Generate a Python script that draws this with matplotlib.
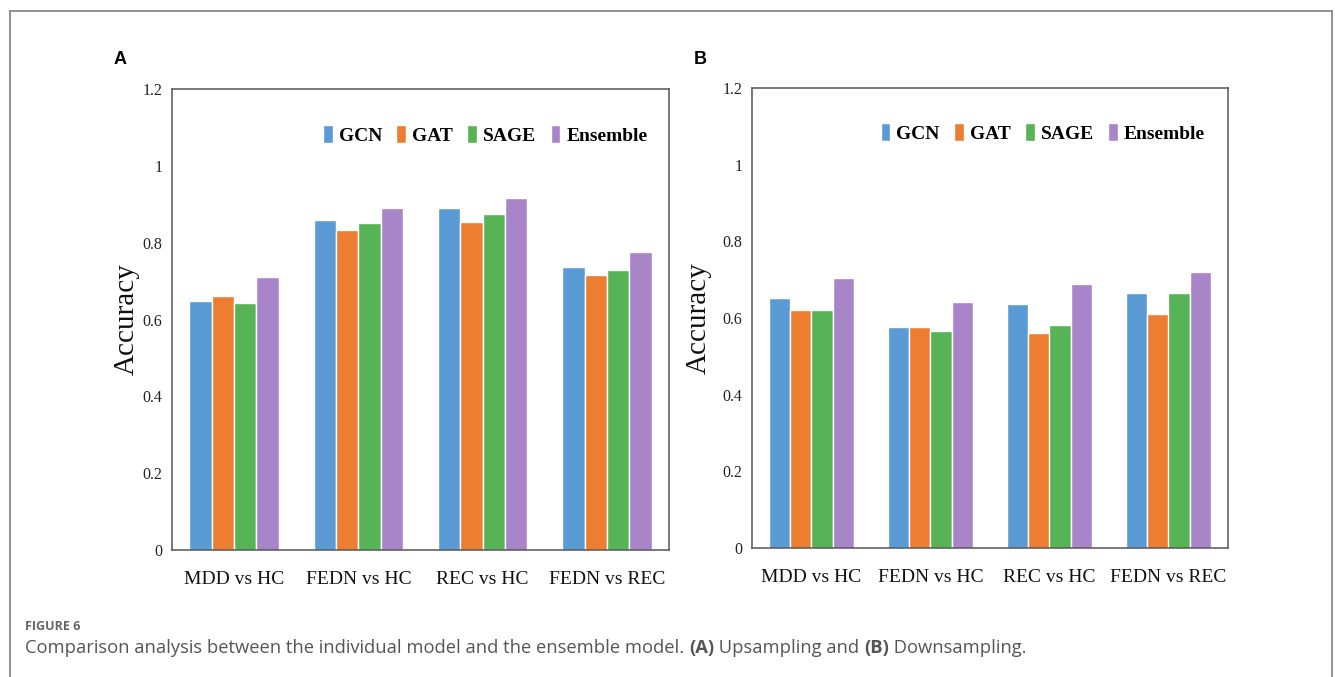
import matplotlib
matplotlib.use("Agg")
import matplotlib.pyplot as plt
import numpy as np
from matplotlib.lines import Line2D

# data
categories = ["MDD vs HC", "FEDN vs HC", "REC vs HC", "FEDN vs REC"]
models = ["GCN", "GAT", "SAGE", "Ensemble"]
colors = ["#5B9BD5", "#ED7D31", "#56B356", "#A885C9"]

# (A) upsampling
up_gcn = [0.647, 0.859, 0.890, 0.736]
up_gat = [0.662, 0.832, 0.854, 0.717]
up_sage = [0.644, 0.850, 0.875, 0.728]
up_ens = [0.711, 0.890, 0.917, 0.777]

# (B) downsampling
down_gcn = [0.653, 0.576, 0.636, 0.664]
down_gat = [0.621, 0.576, 0.561, 0.610]
down_sage = [0.621, 0.566, 0.582, 0.664]
down_ens = [0.704, 0.643, 0.688, 0.719]

yticks = [0, 0.2, 0.4, 0.6, 0.8, 1.0, 1.2]
ytick_labels = ["0", "0.2", "0.4", "0.6", "0.8", "1", "1.2"]

W, H = 1335, 677
fig = plt.figure(figsize=(W / 100, H / 100), dpi=100)
serif = "Liberation Serif"


def draw_panel(rect, series, legend_anchor, label_x):
    ax = fig.add_axes(rect)
    x = np.arange(len(categories))
    bw = 0.18
    for i, (vals, c, name) in enumerate(zip(series, colors, models)):
        ax.bar(x + (i - 1.5) * bw, vals, bw, color=c, edgecolor="white",
               linewidth=1.0, label=name, zorder=2)
    ax.set_xlim(-0.5, len(categories) - 0.5)
    ax.set_ylim(0, 1.2)
    ax.set_yticks(yticks)
    ax.set_yticklabels(ytick_labels, family=serif, fontsize=11.5, color="#222222")
    ax.set_xticks(x)
    ax.set_xticklabels(categories, family=serif, fontsize=14, color="#111111")
    ax.tick_params(axis="both", length=0)
    ax.tick_params(axis="x", pad=15)
    ax.tick_params(axis="y", pad=7)
    for s in ax.spines.values():
        s.set_color("#555555")
        s.set_linewidth(1.1)
    ax.set_ylabel("Accuracy", family=serif, fontsize=21, color="#111111")
    ax.yaxis.set_label_coords(label_x, 0.5)
    ax.legend(loc="center right", bbox_to_anchor=legend_anchor, ncol=4,
              frameon=False, handlelength=0.5, handleheight=1.0,
              handletextpad=0.3, columnspacing=0.75, borderaxespad=0,
              prop={"family": serif, "weight": "bold", "size": 14})
    return ax


draw_panel([172 / W, 127 / H, 497 / W, 461 / H],
           [up_gcn, up_gat, up_sage, up_ens], (0.972, 0.90), -0.064)
draw_panel([752 / W, 129 / H, 476 / W, 460 / H],
           [down_gcn, down_gat, down_sage, down_ens], (0.968, 0.902), -0.084)

# panel letters
fig.text(120 / W, 1 - 60 / H, "A", family="Liberation Sans", weight="bold",
         fontsize=13, ha="center", va="center")
fig.text(700 / W, 1 - 60 / H, "B", family="Liberation Sans", weight="bold",
         fontsize=13, ha="center", va="center")

# outer frame (open at the bottom)
frame = dict(color="#8a8a8a", linewidth=1.3, transform=fig.transFigure)
fig.add_artist(Line2D([10 / W, 10 / W], [0, 1 - 11 / H], **frame))
fig.add_artist(Line2D([10 / W, 1332 / W], [1 - 11 / H, 1 - 11 / H], **frame))
fig.add_artist(Line2D([1332 / W, 1332 / W], [0, 1 - 11 / H], **frame))

# caption
cap_color = "#555555"
fig.text(25 / W, 1 - 626 / H, "FIGURE 6", family="Open Sans", weight="bold",
         fontsize=9, color="#666666", va="center")

parts = [("Comparison analysis between the individual model and the ensemble model. ", "normal"),
         ("(A)", "bold"),
         (" Upsampling and ", "normal"),
         ("(B)", "bold"),
         (" Downsampling.", "normal")]
fig.canvas.draw()
renderer = fig.canvas.get_renderer()
xpos = 25 / W
for txt, wt in parts:
    t = fig.text(xpos, 1 - 648 / H, txt, family="Open Sans", weight=wt,
                 fontsize=13.2, color=cap_color, va="center")
    bb = t.get_window_extent(renderer)
    xpos += bb.width / W

fig.savefig("out.png", dpi=100)
